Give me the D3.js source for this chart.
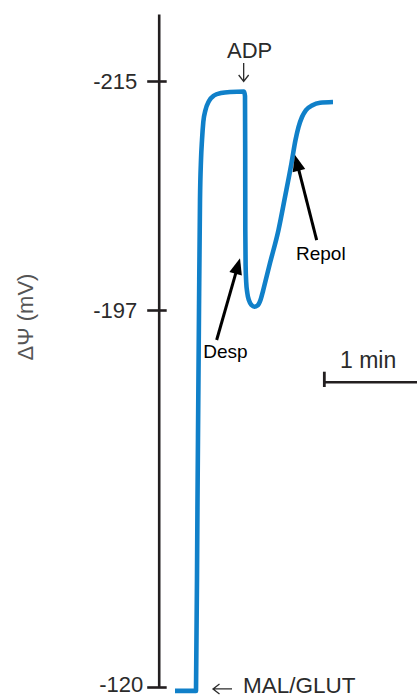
<!DOCTYPE html>
<html>
<head>
<meta charset="utf-8">
<script src="https://cdn.jsdelivr.net/npm/d3@7"></script>
<style>
  html, body { margin: 0; padding: 0; background: #fff; }
  svg { display: block; }
  text { font-family: "Liberation Sans", Arial, sans-serif; }
</style>
</head>
<body>
<svg id="chart" width="417" height="698"></svg>
<script>
// ---- data (time in s, membrane potential ΔΨ in mV) ----
const timeSec = [0, 12.6, 13.5, 14.4, 15.0, 15.6, 16.2, 16.98, 18.3, 20.4, 23.4, 27.6, 33.0, 41.4,
  42.0, 42.12, 42.18, 42.36, 42.72, 43.38, 44.4, 45.9, 47.7, 49.5, 51.3, 52.8, 54.3, 57.0,
  62.1, 66.0, 69.9, 72.3, 74.1, 76.2, 78.6, 82.2, 87.0, 94.8];
const deltaPsi = [-119.2, -119.2, -158.2, -197.0, -205.65, -208.79, -210.36, -211.78, -212.72, -213.43, -213.86, -214.06, -214.14, -214.17,
  -213.82, -209.58, -203.29, -200.54, -199.2, -198.34, -197.75, -197.39, -197.26, -197.35, -197.79, -198.49, -199.28, -200.69,
  -203.29, -205.88, -208.55, -210.36, -211.38, -212.17, -212.72, -213.07, -213.29, -213.35];
const yTicks = [-215, -197, -120];
const yLabel = "ΔΨ (mV)";
const scaleBarMin = 1;          // 1 min scale bar
const scaleBarStart = 89.6;     // s
const addADP = { t: 41.2, label: "ADP" };
const addSubstrate = { t: 0, label: "MAL/GLUT" };
const annotDesp = { label: "Desp", tipT: 39, tipV: -201.06, tailT: 25.0, tailV: -190.87 };
const annotRepol = { label: "Repol", tipT: 72, tipV: -209.18, tailT: 85.0, tailV: -202.5 };

// ---- scales ----
const svg = d3.select("#chart");
const x = d3.scaleLinear().domain([0, 60]).range([175, 275]);
// broken (piecewise) potential axis
const y = d3.scaleLinear().domain([-120, -197, -215, -220.3]).range([687, 310, 81, 14]);
const axisX = 158.7;

const ink = "#231f20";
const blue = "#1080c9";

// ---- y axis ----
const yAxis = d3.axisLeft(y).tickValues(yTicks).tickSizeInner(11).tickSizeOuter(0).tickPadding(10)
  .tickFormat(d => String(d));
const gy = svg.append("g").attr("transform", `translate(${axisX},0)`).call(yAxis);
gy.select(".domain").attr("stroke", ink).attr("stroke-width", 2.6);
gy.selectAll(".tick line").attr("stroke", ink).attr("stroke-width", 2.6).attr("x1", 8).attr("x2", -11.5);
gy.selectAll(".tick text")
  .attr("fill", "#2b2b2b").style("font-size", "22px")
  .attr("x", d => d === -120 ? -15.5 : -21.5)
  .attr("dy", d => d === -120 ? "0.22em" : "0.32em");

// y label
svg.append("text")
  .attr("transform", `translate(33,317) rotate(-90)`)
  .attr("text-anchor", "middle")
  .attr("fill", "#555")
  .style("font-size", "22px")
  .text(yLabel);

// ---- trace ----
const pts = timeSec.map((t, i) => [t, deltaPsi[i]]);
const line = d3.line().x(d => x(d[0])).y(d => y(d[1])).curve(d3.curveMonotoneX);
svg.append("path").datum(pts)
  .attr("d", line)
  .attr("fill", "none")
  .attr("stroke", blue)
  .attr("stroke-width", 4.6)
  .attr("stroke-linejoin", "round");

// ---- ADP addition ----
const adpX = x(addADP.t);
svg.append("text").attr("x", adpX + 6).attr("y", 58).attr("text-anchor", "middle")
  .attr("fill", "#2b2b2b").style("font-size", "22px").text(addADP.label);
svg.append("path")
  .attr("d", `M${adpX},63 V81.5 M${adpX - 5},75 L${adpX},81.5 L${adpX + 5},75`)
  .attr("fill", "none").attr("stroke", "#2b2b2b").attr("stroke-width", 1.3);

// ---- substrate addition ----
const subY = y(deltaPsi[0]) - 2;
svg.append("path")
  .attr("d", `M213,${subY} H232 M219.5,${subY - 5} L213,${subY} L219.5,${subY + 5}`)
  .attr("fill", "none").attr("stroke", "#2b2b2b").attr("stroke-width", 1.3);
svg.append("text").attr("x", 243).attr("y", 693)
  .attr("fill", "#2b2b2b").style("font-size", "22.5px").text(addSubstrate.label);

// ---- annotation arrows ----
function arrow(a) {
  const x1 = x(a.tailT), y1 = y(a.tailV), x2 = x(a.tipT), y2 = y(a.tipV);
  const ang = Math.atan2(y2 - y1, x2 - x1);
  const hl = 16, hw = 6.5;
  const bx = x2 - hl * Math.cos(ang), by = y2 - hl * Math.sin(ang);
  const px = -Math.sin(ang), py = Math.cos(ang);
  svg.append("line").attr("x1", x1).attr("y1", y1).attr("x2", bx + 2 * Math.cos(ang)).attr("y2", by + 2 * Math.sin(ang))
    .attr("stroke", "#000").attr("stroke-width", 3);
  svg.append("path")
    .attr("d", `M${x2},${y2} L${bx + hw * px},${by + hw * py} L${bx - hw * px},${by - hw * py} Z`)
    .attr("fill", "#000");
}
arrow(annotDesp);
arrow(annotRepol);
svg.append("text").attr("x", 203.3).attr("y", 358.3).attr("fill", "#000").style("font-size", "19px").text(annotDesp.label);
svg.append("text").attr("x", 296).attr("y", 260).attr("fill", "#000").style("font-size", "19px").text(annotRepol.label);

// ---- time scale bar ----
const sbx0 = x(scaleBarStart), sbx1 = x(scaleBarStart + scaleBarMin * 60);
svg.append("line").attr("x1", sbx0).attr("x2", sbx1).attr("y1", 382.3).attr("y2", 382.3)
  .attr("stroke", ink).attr("stroke-width", 2.6);
svg.append("line").attr("x1", sbx0).attr("x2", sbx0).attr("y1", 371.7).attr("y2", 387)
  .attr("stroke", ink).attr("stroke-width", 2.8);
svg.append("text").attr("x", 340).attr("y", 368.3).attr("fill", "#2b2b2b").style("font-size", "23px")
  .text(scaleBarMin + " min");
</script>
</body>
</html>
